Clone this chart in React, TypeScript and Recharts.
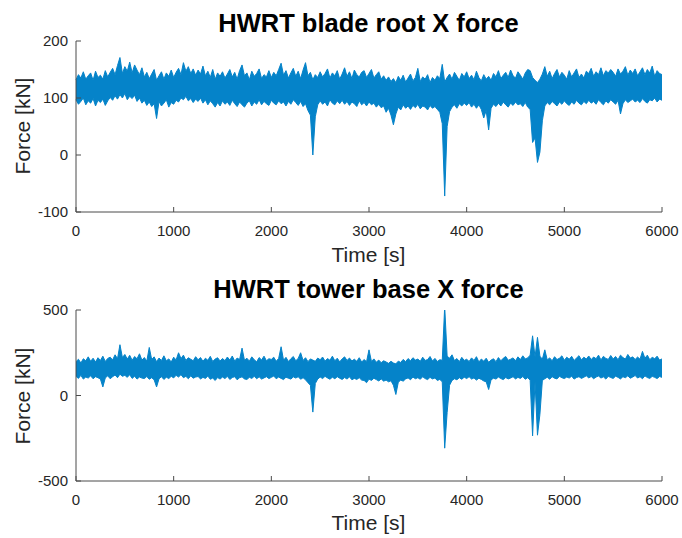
import { ComposedChart, Area, XAxis, YAxis } from "recharts";

// sample spacing of the envelope readings [s]
const timeStep = 25;

// HWRT blade root X force [kN]: upper and lower edge of the signal band, every 25 s
const bladeUpper = [
  132, 141, 135, 146, 133, 139, 144, 131, 147, 136,
  140, 133, 148, 137, 145, 152, 141, 157, 171, 143,
  155, 147, 163, 144, 158, 149, 141, 153, 137, 145,
  134, 142, 150, 131, 139, 146, 133, 144, 138, 149,
  136, 145, 152, 141, 162, 147, 155, 143, 151, 140,
  149, 142, 156, 139, 147, 136, 150, 133, 144, 138,
  146, 135, 142, 150, 137, 145, 133, 148, 158, 139,
  144, 132, 147, 138, 143, 151, 134, 141, 137, 148,
  136, 145, 139, 150, 161, 140, 148, 135, 144, 152,
  138, 147, 134, 149, 162, 139, 145, 132, 141, 136,
  146, 137, 143, 151, 135, 144, 139, 148, 133, 142,
  153, 138, 146, 134, 149, 141, 137, 145, 148, 136,
  143, 150, 135, 141, 146, 133, 139, 131, 137, 129,
  134, 127, 138, 131, 140, 128, 135, 142, 130, 136,
  152, 129, 137, 133, 141, 127, 136, 131, 139, 134,
  159, 128, 136, 142, 133, 145, 138, 131, 143, 137,
  146, 134, 140, 132, 147, 136, 130, 141, 133, 138,
  131, 143, 137, 148, 134, 140, 145, 136, 149, 139,
  135, 146, 140, 133, 144, 150, 148, 136, 131, 127,
  133, 142, 155, 138, 147, 134, 143, 150, 137, 145,
  140, 133, 148, 137, 144, 151, 136, 142, 135, 147,
  143, 152, 138, 146, 141, 153, 139, 148, 144, 150,
  145, 138, 151, 142, 147, 155, 140, 149, 143, 151,
  139, 146, 153, 141, 150, 144, 156, 138, 148, 143,
  141,
];

const bladeLower = [
  97, 89, 94, 100, 88, 95, 91, 99, 86, 96,
  92, 98, 87, 95, 101, 96, 104, 98, 106, 100,
  108, 97, 103, 99, 105, 94, 100, 91, 96, 87,
  93, 85, 90, 64, 94, 86, 91, 97, 84, 92,
  89, 96, 93, 100, 97, 103, 95, 99, 92, 98,
  94, 100, 91, 97, 88, 95, 90, 84, 92, 86,
  95, 89, 93, 87, 96, 90, 85, 93, 88, 84,
  91, 95, 86, 93, 89, 97, 88, 94, 90, 87,
  96, 91, 88, 95, 90, 93, 86, 94, 89, 97,
  92, 87, 94, 85, 90, 78, 70, 0, 67, 88,
  95, 89, 93, 86, 97, 91, 88, 95, 90, 96,
  89, 94, 87, 93, 90, 85, 95, 88, 92, 86,
  93, 88, 91, 84, 89, 83, 86, 75, 82, 70,
  53, 72, 84, 79, 88, 82, 86, 80, 87, 83,
  89, 81, 86, 84, 79, 87, 82, 85, 80, 75,
  55, -72, 50, 76, 84, 88, 82, 90, 86, 91,
  87, 92, 84, 89, 82, 88, 80, 65, 78, 44,
  82, 89, 85, 91, 86, 93, 88, 84, 91, 87,
  93, 88, 90, 85, 92, 84, 80, 22, 30, -13,
  5, 60, 86, 92, 88, 94, 90, 86, 93, 89,
  95, 90, 87, 93, 89, 96, 91, 88, 94, 90,
  96, 91, 94, 89, 97, 92, 88, 95, 91, 97,
  93, 89, 96, 72, 90, 97, 92, 95, 98, 93,
  96, 92, 99, 94, 91, 97, 95, 100, 93, 98,
  96,
];

// HWRT tower base X force [kN]: upper and lower edge of the signal band, same time base
const towerUpper = [
  198, 212, 190, 215, 203, 226, 200, 218, 196, 221,
  205, 230, 199, 217, 224, 208, 238, 215, 297, 222,
  240, 213, 235, 206, 228, 215, 244, 207, 222, 201,
  281, 210, 226, 198, 219, 205, 232, 203, 214, 196,
  224, 208, 250, 216, 236, 205, 221, 212, 203, 227,
  209, 222, 200, 218, 206, 229, 199, 213, 221, 202,
  216, 204, 225, 207, 231, 201, 219, 210, 277, 206,
  218, 201, 226, 209, 197, 222, 208, 230, 203, 215,
  211, 224, 200, 217, 285, 206, 223, 199, 215, 228,
  203, 217, 250, 205, 221, 198, 214, 207, 200, 219,
  209, 225, 201, 216, 206, 230, 203, 218, 197, 214,
  226, 205, 219, 202, 212, 200, 221, 196, 210, 198,
  267, 199, 214, 195, 207, 192, 203, 196, 188, 200,
  190, 185, 201, 193, 211, 198, 216, 203, 221, 207,
  213, 200, 224, 205, 210, 228, 202, 217, 199, 209,
  206, 520, 230, 218, 238, 204, 216, 198, 223, 205,
  212, 199, 220, 205, 227, 196, 213, 201, 218, 194,
  207, 215, 198, 222, 203, 218, 228, 206, 212, 220,
  203, 226, 210, 232, 214, 220, 236, 349, 225, 340,
  230, 212, 267, 208, 220, 203, 227, 210, 218, 232,
  206, 224, 212, 229, 205, 219, 233, 208, 224, 213,
  231, 210, 225, 215, 236, 208, 229, 217, 211, 234,
  214, 228, 209, 236, 222, 213, 240, 219, 226, 211,
  225, 212, 258, 218, 236, 209, 224, 215, 230, 207,
  214,
];

const towerLower = [
  112, 100, 118, 96, 108, 102, 115, 98, 110, 104,
  96, 50, 103, 115, 98, 110, 120, 104, 125, 112,
  118, 106, 122, 100, 113, 96, 108, 102, 99, 111,
  95, 104, 92, 50, 98, 110, 94, 107, 99, 112,
  103, 118, 108, 122, 104, 112, 98, 115, 101, 108,
  111, 97, 106, 100, 114, 95, 102, 88, 105, 96,
  108, 99, 112, 94, 105, 110, 92, 104, 109, 97,
  94, 106, 100, 112, 98, 109, 96, 103, 110, 99,
  106, 114, 98, 108, 100, 93, 107, 101, 96, 109,
  102, 110, 95, 104, 92, 75, 60, -97, 70, 96,
  108, 99, 112, 103, 95, 107, 98, 110, 101, 94,
  105, 96, 109, 92, 100, 94, 104, 90, 88, 75,
  96, 88, 101, 93, 85, 97, 84, 90, 80, 86,
  60, 6, 78, 90, 84, 97, 103, 92, 108, 98,
  104, 95, 110, 99, 93, 106, 97, 102, 88, 94,
  80, -308, -100, 60, 88, 98, 92, 104, 95, 107,
  99, 110, 96, 103, 90, 101, 94, 85, 80, 35,
  92, 101, 96, 108, 99, 93, 105, 97, 102, 110,
  97, 106, 100, 111, 95, 104, 90, -236, 80, -232,
  -110, 88, 98, 107, 95, 110, 101, 97, 112, 104,
  99, 108, 102, 113, 96, 105, 110, 100, 107, 115,
  103, 111, 98, 108, 114, 102, 109, 96, 112, 105,
  100, 113, 106, 97, 110, 104, 115, 101, 108, 117,
  102, 110, 98, 115, 105, 100, 112, 106, 99, 111,
  106,
];

const timeTicks = [0, 1000, 2000, 3000, 4000, 5000, 6000];
const bladeTicks = [-100, 0, 100, 200];
const towerTicks = [-500, 0, 500];

const FONT = '"Liberation Sans", Arial, Helvetica, sans-serif';
const TEXT = "#262626";
const AXIS = "#4a4a4a";
const LINE = "#0583c9";

const tickStyle = { fontSize: 15, fill: TEXT, fontFamily: FONT };

function ForcePanel({
  upper,
  lower,
  yTicks,
  top,
  height,
  marginTop,
}: {
  upper: number[];
  lower: number[];
  yTicks: number[];
  top: number;
  height: number;
  marginTop: number;
}) {
  const data = upper.map((hi, i) => ({ t: i * timeStep, band: [lower[i], hi] }));
  const yDomain = [yTicks[0], yTicks[yTicks.length - 1]];
  return (
    <div style={{ position: "absolute", left: 0, top }}>
      <ComposedChart
        width={682}
        height={height}
        data={data}
        margin={{ top: marginTop, right: 20, left: 16, bottom: 0 }}
      >
        <XAxis
          dataKey="t"
          type="number"
          domain={[0, 6000]}
          ticks={timeTicks}
          height={height - marginTop - 171}
          tickSize={-5}
          tickMargin={18}
          tick={tickStyle}
          axisLine={{ stroke: AXIS }}
          tickLine={{ stroke: AXIS }}
        />
        <XAxis
          xAxisId="top"
          orientation="top"
          dataKey="t"
          type="number"
          domain={[0, 6000]}
          ticks={timeTicks}
          height={0}
          tickSize={-5}
          tick={false}
          axisLine={{ stroke: AXIS }}
          tickLine={{ stroke: AXIS }}
        />
        <YAxis
          type="number"
          domain={yDomain}
          ticks={yTicks}
          allowDataOverflow
          width={60}
          tickSize={-5}
          tickMargin={13}
          tick={tickStyle}
          axisLine={{ stroke: AXIS }}
          tickLine={{ stroke: AXIS }}
        />
        <YAxis
          yAxisId="right"
          orientation="right"
          type="number"
          domain={yDomain}
          ticks={yTicks}
          width={0}
          tickSize={-5}
          tick={false}
          axisLine={{ stroke: AXIS }}
          tickLine={{ stroke: AXIS }}
        />
        <Area
          dataKey="band"
          type="linear"
          stroke={LINE}
          strokeWidth={1}
          fill={LINE}
          fillOpacity={1}
          dot={false}
          activeDot={false}
          isAnimationActive={false}
        />
      </ComposedChart>
    </div>
  );
}

const titleStyle = {
  position: "absolute" as const,
  left: 0,
  width: 737,
  textAlign: "center" as const,
  fontFamily: FONT,
  fontWeight: "bold" as const,
  fontSize: 25.5,
  lineHeight: 1,
  color: "#000",
};

const xLabelStyle = {
  position: "absolute" as const,
  left: 0,
  width: 737,
  textAlign: "center" as const,
  fontFamily: FONT,
  fontSize: 21,
  lineHeight: 1,
  color: TEXT,
};

const yLabelStyle = {
  position: "absolute" as const,
  left: 22,
  fontFamily: FONT,
  fontSize: 21,
  lineHeight: 1,
  color: TEXT,
  whiteSpace: "nowrap" as const,
  transform: "translate(-50%, -50%) rotate(-90deg)",
};

export default function App() {
  return (
    <div
      style={{
        position: "absolute",
        left: 0,
        top: 0,
        width: 682,
        height: 538,
        background: "#fff",
      }}
    >
      <ForcePanel upper={bladeUpper} lower={bladeLower} yTicks={bladeTicks} top={0} height={270} marginTop={41} />
      <ForcePanel upper={towerUpper} lower={towerLower} yTicks={towerTicks} top={270} height={268} marginTop={40} />
      <div style={{ ...titleStyle, top: 11 }}>HWRT blade root X force</div>
      <div style={{ ...titleStyle, top: 277 }}>HWRT tower base X force</div>
      <div style={{ ...xLabelStyle, top: 244 }}>Time [s]</div>
      <div style={{ ...xLabelStyle, top: 512 }}>Time [s]</div>
      <div style={{ ...yLabelStyle, top: 126 }}>Force [kN]</div>
      <div style={{ ...yLabelStyle, top: 396 }}>Force [kN]</div>
    </div>
  );
}
